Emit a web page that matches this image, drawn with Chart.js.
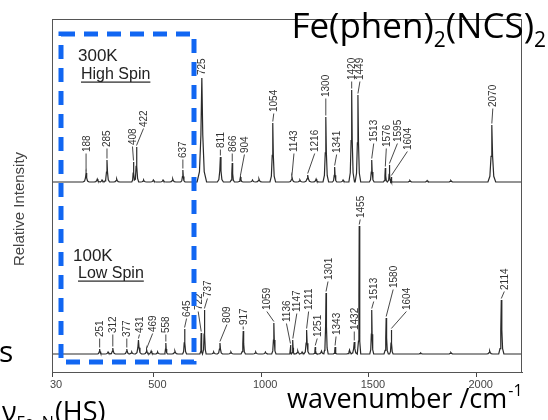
<!DOCTYPE html>
<html><head><meta charset="utf-8">
<script src="https://cdn.jsdelivr.net/npm/chart.js@4"></script>
<style>html,body{margin:0;padding:0;background:#fff;overflow:hidden}#wrap{position:relative;width:548px;height:420px}</style>
</head><body><div id="wrap"><canvas id="c" width="548" height="420"></canvas></div>
<script>
// x-axis tick values (cm-1)
const xTicks = [30, 500, 1000, 1500, 2000];

// 300 K, high spin: labelled band positions (cm-1), heights above baseline, half-widths (cm-1)
const hsPeaks   = [188, 285, 408, 422, 637, 725, 811, 866, 904, 1054, 1143, 1216, 1300, 1341, 1420, 1449, 1513, 1576, 1595, 1604, 2070];
const hsHeights = [9,   22,  20,  35,  12,  104, 25,  19,  5,   59,   5,    7,    65,   15,   92,   87,   22,   14,   17,   5,    57];
const hsWidths  = [14,  12,  8,   10,  10,  22,  14,  10,  12,  13,   14,   16,   13,   10,   13,   13,   11,   9,    7,    5,    18];
// 300 K weak unlabelled bands
const hsMinorPeaks   = [240, 262, 330, 455, 500, 545, 590, 960, 990, 1180, 1255, 1380, 1690, 1770, 1880];
const hsMinorHeights = [3,   2,   3,   2,   2,   2,   3,   2,   3,   2,    3,    2,    1.5,  1.5,  1.5];

// 100 K, low spin
const lsPeaks   = [251, 312, 377, 431, 469, 558, 645, 722, 737, 809, 917, 1059, 1136, 1147, 1211, 1251, 1301, 1343, 1432, 1455, 1513, 1580, 1604, 2114];
const lsHeights = [5,   6,   5,   14,  4,   11,  25,  21,  44,  11,  23,  31,   9,    14,   24,   7,    61,   7,    12,   128,  44,   36,   24,   54];
const lsWidths  = [10,  12,  12,  14,  12,  8,   9,   6,   8,   12,  10,  10,   5,    6,    12,   8,    10,   8,    14,   7,    9,    10,   8,    12];
const lsMinorPeaks   = [290, 400, 490, 520, 600, 780, 860, 975, 1020, 1170, 1190, 1280, 1410, 1740, 1880, 2060];
const lsMinorHeights = [2,   2,   3,   2,   3,   2,   2,   2,   2,    3,    2,    3,    4,    1,    1.5,  3];

// baselines of the two stacked traces (relative intensity units)
const hsBase = 190, lsBase = 18;

// label layout (pixel offsets), one per labelled band
const hsLabelDx   = [0, 0, -1, 7, 0, 0, 0, 0, 4, 1, 2, 7, 0, 2, 0, 2, 2, 1, 8, 16, 1];
const hsLabelLift = [21, 13, 17, 20, 12, 3, 9, 11, 24, 11, 25, 23, 20, 14, 10, 15, 18, 21, 23, 27, 18];
const lsLabelDx   = [0, 0, 0, 1, 6, 0, 2, -3, 3, 7, 0, -7, -4, 4, 2, 2, 2, 1, 0, 1, 2, 7, 15, 3];
const lsLabelLift = [12, 15, 12, 7, 18, 10, 12, 23, 13, 20, 6, 13, 23, 28, 20, 10, 13, 12, 12, 8, 10, 30, 20, 10];

const X_MIN = 30, X_MAX = 2210;
// band profile: [offset in half-widths, fraction of height]
const profile = [[-1,0],[-0.5,0.1],[-0.2,0.45],[0,1],[0.2,0.45],[0.5,0.1],[1,0]];

function bandValue(x, c, h, w){
  const t = (x - c) / w;
  if (t <= -1 || t >= 1) return 0;
  for (let i = 0; i < profile.length - 1; i++){
    const a = profile[i], b = profile[i+1];
    if (t >= a[0] && t <= b[0]) return h * (a[1] + (b[1]-a[1]) * (t - a[0]) / (b[0]-a[0]));
  }
  return 0;
}
function buildTrace(peaks, heights, widths, minorP, minorH, base){
  const bands = [];
  peaks.forEach((p,i)=>bands.push([p, heights[i], widths[i]]));
  minorP.forEach((p,i)=>bands.push([p, minorH[i], 14]));
  const xs = new Set([X_MIN, X_MAX]);
  bands.forEach(b=>profile.forEach(q=>xs.add(+(b[0]+q[0]*b[2]).toFixed(3))));
  return [...xs].sort((a,b)=>a-b).map(x=>({x, y: base + bands.reduce((s,b)=>s+bandValue(x,b[0],b[1],b[2]),0)}));
}

const hsData = buildTrace(hsPeaks, hsHeights, hsWidths, hsMinorPeaks, hsMinorHeights, hsBase);
const lsData = buildTrace(lsPeaks, lsHeights, lsWidths, lsMinorPeaks, lsMinorHeights, lsBase);

const overlay = {
  id: 'overlay',
  afterDraw(chart){
    const ctx = chart.ctx, xs = chart.scales.x, ys = chart.scales.y, a = chart.chartArea;
    ctx.save();
    // frame
    ctx.strokeStyle = '#555'; ctx.lineWidth = 1;
    ctx.strokeRect(a.left + 0.5, a.top + 0.5, a.right - a.left - 1, a.bottom - a.top);
    // peak labels
    ctx.fillStyle = '#333'; ctx.strokeStyle = '#333'; ctx.lineWidth = 0.9;
    ctx.font = '10px "Liberation Sans", Arial, sans-serif';
    function labels(peaks, heights, base, dxs, lifts){
      peaks.forEach((p,i)=>{
        const px = xs.getPixelForValue(p);
        const py = ys.getPixelForValue(base + heights[i]);
        const tx = px + dxs[i], ty = py - lifts[i];
        if (lifts[i] > 5){
          ctx.beginPath(); ctx.moveTo(px, py - 1.5); ctx.lineTo(tx, ty + 1.5); ctx.stroke();
        }
        ctx.save(); ctx.translate(tx + 3.5, ty); ctx.rotate(-Math.PI/2);
        ctx.textAlign = 'left'; ctx.textBaseline = 'alphabetic';
        ctx.fillText(String(p), 0, 0); ctx.restore();
      });
    }
    labels(hsPeaks, hsHeights, hsBase, hsLabelDx, hsLabelLift);
    labels(lsPeaks, lsHeights, lsBase, lsLabelDx, lsLabelLift);

    // state labels
    ctx.fillStyle = '#222';
    ctx.font = '17px "Liberation Sans", Arial, sans-serif';
    ctx.textAlign = 'left'; ctx.textBaseline = 'alphabetic';
    ctx.fillText('300K', 78, 61);
    ctx.fillText('100K', 73, 261);
    ctx.font = '16px "Liberation Sans", Arial, sans-serif';
    function under(t, x, y){
      ctx.fillText(t, x, y);
      const w = ctx.measureText(t).width;
      ctx.fillRect(x, y + 2.5, w, 1.2);
    }
    under('High Spin', 81, 79);
    under('Low Spin', 78, 278);

    // y-axis title
    ctx.save(); ctx.translate(24, 209); ctx.rotate(-Math.PI/2);
    ctx.textAlign = 'center'; ctx.fillStyle = '#444';
    ctx.font = '15px "Liberation Sans", Arial, sans-serif';
    ctx.fillText('Relative Intensity', 0, 0); ctx.restore();

    // title with subscripts
    ctx.fillStyle = '#000';
    const big = '35px "Open Sans", sans-serif', small = '21px "Open Sans", sans-serif';
    const parts = [['Fe(phen)', big, 0], ['2', small, 9], ['(NCS)', big, 0], ['2', small, 9]];
    let tot = 0;
    parts.forEach(p=>{ctx.font = p[1]; tot += ctx.measureText(p[0]).width;});
    let x = 546 - tot;
    parts.forEach(p=>{ctx.font = p[1]; ctx.fillText(p[0], x, 38 + p[2]); x += ctx.measureText(p[0]).width;});

    // x-axis title
    ctx.font = '27px "Open Sans", sans-serif';
    ctx.fillText('wavenumber /cm', 287, 408);
    let w2 = ctx.measureText('wavenumber /cm').width;
    ctx.font = '16px "Open Sans", sans-serif';
    ctx.fillText('-1', 287 + w2 + 1, 396);

    // cut-off annotation text at lower left
    ctx.font = '30px "Open Sans", sans-serif';
    ctx.fillText('s', -1, 362);
    ctx.font = '27px "Open Sans", sans-serif';
    ctx.fillText('\u03BD', 2, 421);
    let wn = ctx.measureText('\u03BD').width;
    ctx.font = '16px "Open Sans", sans-serif';
    ctx.fillText('Fe\u2013N', 2 + wn, 428);
    let ws = ctx.measureText('Fe\u2013N').width;
    ctx.font = '27px "Open Sans", sans-serif';
    ctx.fillText('(HS)', 2 + wn + ws + 1, 421);

    // dashed highlight box
    ctx.strokeStyle = '#1166f2'; ctx.lineWidth = 5; ctx.setLineDash([14, 9]);
    ctx.strokeRect(61, 34, 133, 328);
    ctx.restore();
  }
};

new Chart(document.getElementById('c'), {
  type: 'line',
  data: { datasets: [
    { label: '300K', data: hsData, borderColor: '#2a2a2a', borderWidth: 1.2, pointRadius: 0, tension: 0, fill: false },
    { label: '100K', data: lsData, borderColor: '#2a2a2a', borderWidth: 1.2, pointRadius: 0, tension: 0, fill: false }
  ]},
  options: {
    responsive: false, animation: false, parsing: false,
    layout: { padding: { left: 52, right: 26, top: 19, bottom: 0 } },
    plugins: { legend: { display: false }, tooltip: { enabled: false } },
    scales: {
      x: { type: 'linear', min: X_MIN, max: X_MAX,
        afterBuildTicks: ax => { ax.ticks = xTicks.map(v => ({ value: v })); },
        afterFit: s => { s.height = 48; },
        ticks: { autoSkip: false, maxRotation: 0, labelOffset: 4, padding: 1, color: '#444',
                 font: { family: '"Liberation Sans", Arial, sans-serif', size: 11 }, callback: v => String(v) },
        grid: { drawOnChartArea: false, drawTicks: true, tickLength: 5, color: '#444' },
        border: { display: true, color: '#555', width: 1 } },
      y: { type: 'linear', min: 0, max: 353, display: false }
    }
  },
  plugins: [overlay]
});
</script></body></html>
